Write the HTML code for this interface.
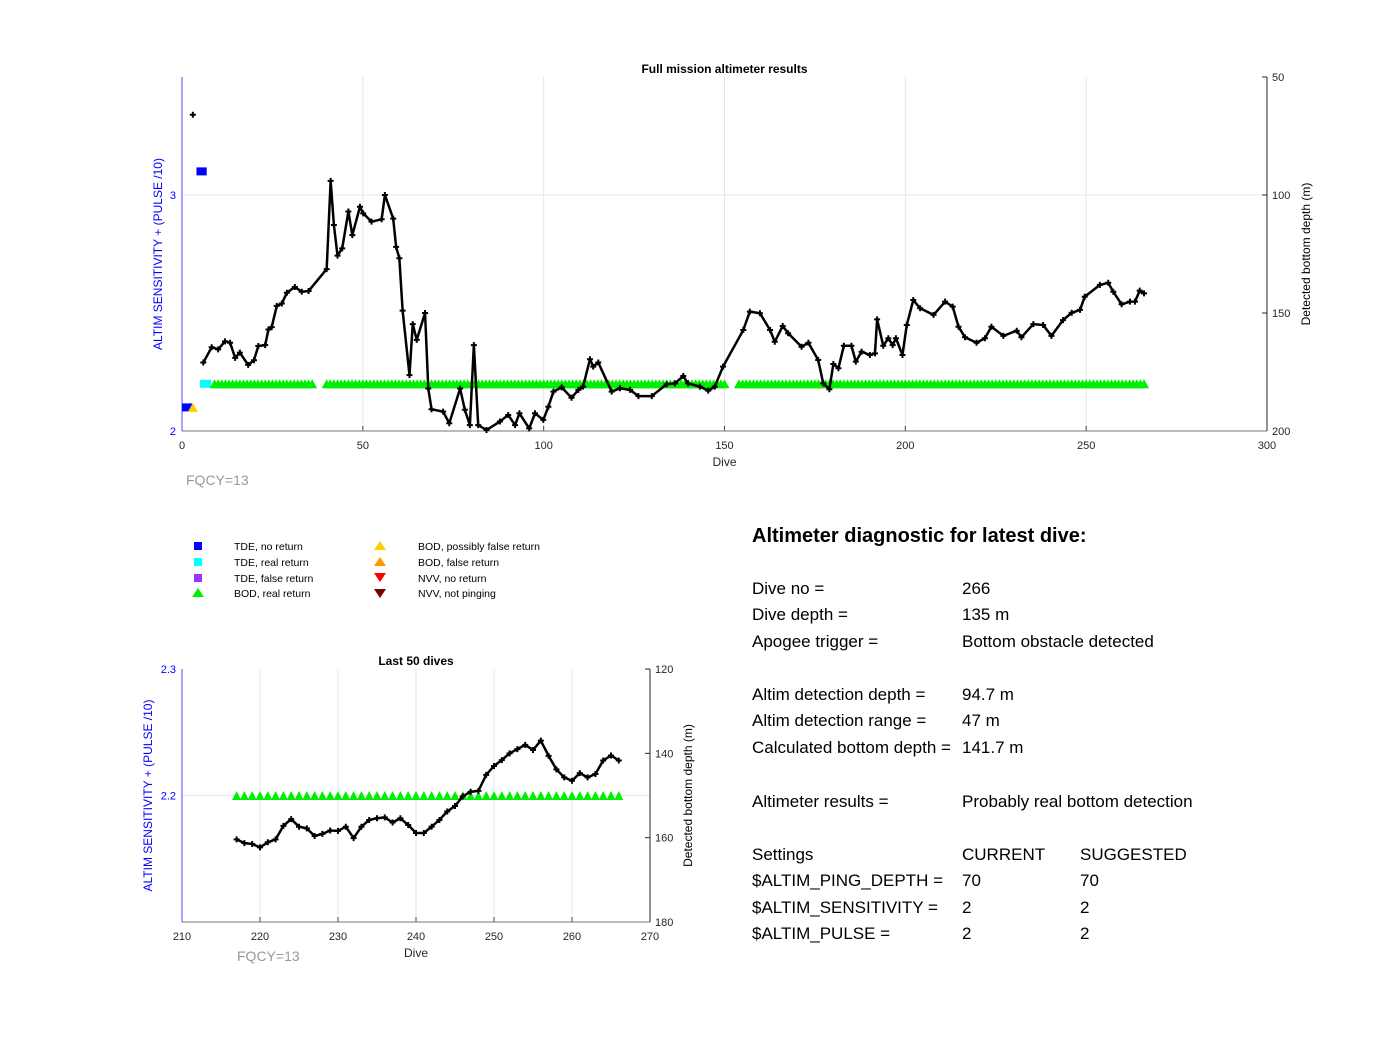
<!DOCTYPE html>
<html><head><meta charset="utf-8"><style>
body{margin:0;background:#fff;font-family:"Liberation Sans",Arial,sans-serif}
svg text{font-family:"Liberation Sans",Arial,sans-serif}
</style></head><body>
<svg id="s" width="1400" height="1038" xmlns="http://www.w3.org/2000/svg">
<rect width="1400" height="1038" fill="#fff"/>
<g id="main"></g>
<g id="small"></g>
<g font-size="10.5" fill="#000">
 <rect x="194" y="542" width="8" height="8" fill="#0000ff"/>
 <text x="234" y="550">TDE, no return</text>
 <rect x="194" y="558" width="8" height="8" fill="#00ffff"/>
 <text x="234" y="566">TDE, real return</text>
 <rect x="194" y="574" width="8" height="8" fill="#9933ff"/>
 <text x="234" y="582">TDE, false return</text>
 <polygon points="192,597 198,588 204,597" fill="#00ee00"/>
 <text x="234" y="597">BOD, real return</text>
 <polygon points="374,550 380,541 386,550" fill="#ffcc00"/>
 <text x="418" y="550">BOD, possibly false return</text>
 <polygon points="374,566 380,557 386,566" fill="#ff9900"/>
 <text x="418" y="566">BOD, false return</text>
 <polygon points="374,573 380,582 386,573" fill="#ff0000"/>
 <text x="418" y="582">NVV, no return</text>
 <polygon points="374,589 380,598 386,589" fill="#800000"/>
 <text x="418" y="597">NVV, not pinging</text>
</g>
<g font-size="17" fill="#000">
 <text x="752" y="542" font-size="20" font-weight="bold">Altimeter diagnostic for latest dive:</text>
 <text x="752" y="594">Dive no =</text><text x="962" y="594">266</text>
 <text x="752" y="620">Dive depth =</text><text x="962" y="620">135 m</text>
 <text x="752" y="647">Apogee trigger =</text><text x="962" y="647">Bottom obstacle detected</text>
 <text x="752" y="700">Altim detection depth =</text><text x="962" y="700">94.7 m</text>
 <text x="752" y="726">Altim detection range =</text><text x="962" y="726">47 m</text>
 <text x="752" y="753">Calculated bottom depth =</text><text x="962" y="753">141.7 m</text>
 <text x="752" y="807">Altimeter results =</text><text x="962" y="807">Probably real bottom detection</text>
 <text x="752" y="860">Settings</text><text x="962" y="860">CURRENT</text><text x="1080" y="860">SUGGESTED</text>
 <text x="752" y="886">$ALTIM_PING_DEPTH =</text><text x="962" y="886">70</text><text x="1080" y="886">70</text>
 <text x="752" y="913">$ALTIM_SENSITIVITY =</text><text x="962" y="913">2</text><text x="1080" y="913">2</text>
 <text x="752" y="939">$ALTIM_PULSE =</text><text x="962" y="939">2</text><text x="1080" y="939">2</text>
</g>
</svg>
<script>
// ---- main chart data ----
const mainDives=[5.9,8.2,10,11.9,13.3,14.7,16,18.3,19.9,21.1,23,23.9,24.8,26.2,27.6,29,31.2,33.1,35,40,41.1,42,43,44.3,46,47.1,49.2,50.1,52.4,55.2,56.1,58.4,59.2,60.1,61,62.9,63.8,64.9,67.2,68.1,69,72.2,73.9,76.9,78.2,79.6,80.7,81.9,84.2,87.9,90.2,92.1,93.3,96,97.6,99.9,101.3,102.7,105,107.7,109.6,110.9,112.8,113.7,115.1,118.8,121.1,123.9,126.2,129.9,134,136.3,138.6,139.9,143.2,145.5,147.3,149.6,155.2,157,159.8,162.6,163.9,166.1,167.6,171.3,173.2,175.9,177.3,179,180.1,181.5,183,185.1,186.3,187.9,190.2,191.6,192.2,193.9,195.3,196.5,197.4,199.2,200.4,202.2,204.1,207.8,211,213.1,214.7,216.5,219.7,222,223.8,227.1,230.8,232.1,235.4,238.1,240.4,243.6,246,248.3,249.6,253.8,256.1,257.5,259.8,262.1,263.5,264.8,266];
const mainDepths=[171,164.5,165.4,162,162.6,169,166.8,172,170,164,163.6,157,156,147,146,141.4,139,141,140.7,131.4,94,112.7,125.7,122.6,107,117,105,107.8,111.3,110.3,100,110,122,126.8,149,176.3,154.7,161.4,150,182,190.8,191.8,196.7,182,191,197.5,163.6,197.5,199.6,196,193.2,197.5,192.5,198.9,192.5,195.3,189.7,183.3,181.5,185.9,182.6,181.2,169.6,172.7,171,183.3,181.9,182.6,185.2,185.2,180.2,179.8,176.7,179.8,181.2,182.9,181.2,172.7,157.2,149.4,150.1,157.2,162.2,155.5,158.6,164.3,162.6,169.9,179.8,182.3,171.6,173.4,163.9,163.9,170.6,166.4,167.8,167.1,152.7,163.9,160.7,163.6,160.7,167.8,155.1,144.5,148,150.8,145.2,147.3,155.8,160.3,162.6,160.7,155.8,159.7,157.5,160.3,154.7,155.1,159.7,153,149.9,148.7,143.1,138.1,137.2,141,146.3,145.2,145.2,140.5,141.7];
const outlierDive=[3], outlierDepth=[66];
const bodRanges=[[9,36],[40,150],[154,266]];
const tdeNoReturn=[[0,2,2.1],[4,6,3.1]];
const tdeReal=[[5,8,2.2]];
const bodPossFalse=[[3,2.1]];
const mainXTicks=[0,50,100,150,200,250,300];
const mainLeftTicks=[2,3];
const mainRightTicks=[50,100,150,200];
// ---- last 50 data ----
const lastDives=[];for(let d=217;d<=266;d++)lastDives.push(d);
const lastDepths=[160.4,161.3,161.5,162.3,161.1,160.4,157.2,155.6,157.4,157.8,159.6,159.1,158.3,158.4,157.4,160.1,157.4,155.8,155.4,155.2,156.4,155.4,157,158.9,158.9,157.4,155.8,153.8,152.5,150.2,149.1,148.9,145.1,143,141.6,140,139,138,139.2,137,140.6,143.8,145.7,146.5,144.7,145.7,144.9,141.7,140.5,141.7];
const smallXTicks=[210,220,230,240,250,260,270];
const smallLeftTicks=[2.2,2.3];
const smallRightTicks=[120,140,160,180];

const NS='http://www.w3.org/2000/svg';
function mk(parent,tag,attrs,txt){const e=document.createElementNS(NS,tag);for(const k in attrs)e.setAttribute(k,attrs[k]);if(txt!==undefined)e.textContent=txt;parent.appendChild(e);return e;}
function plus(g,x,y){mk(g,'path',{d:`M${x-3},${y}H${x+3}M${x},${y-3}V${y+3}`,stroke:'#000','stroke-width':2});}
function tri(g,x,y,w,h,c){const p=mk(g,'polygon',{points:`${x-w/2},${y+h/2} ${x},${y-h/2} ${x+w/2},${y+h/2}`,fill:c});return p;}

function chart(g,o){
  const X=v=>o.x0+(v-o.xmin)/(o.xmax-o.xmin)*(o.x1-o.x0);
  const YL=v=>o.yb+(v-o.lmin)/(o.lmax-o.lmin)*(o.yt-o.yb);
  const YR=v=>o.yt+(v-o.rmin)/(o.rmax-o.rmin)*(o.yb-o.yt);
  o.xt.forEach(t=>{if(t>o.xmin&&t<o.xmax){const l=mk(g,'line',{x1:X(t),x2:X(t),y1:o.yt,y2:o.yb,stroke:'#e6e6e6'});
  
  }
  mk(g,'line',{x1:X(t),x2:X(t),y1:o.yb,y2:o.yb-5,stroke:'#444'});
  const tx=mk(g,'text',{x:X(t),y:o.yb+18,'text-anchor':'middle','font-size':o.fs,fill:'#262626'},String(t));
  
  });
  o.lt.forEach(t=>{if(t>o.lmin&&t<o.lmax)mk(g,'line',{x1:o.x0,x2:o.x1,y1:YL(t),y2:YL(t),stroke:'#e4e4ff'});
  const tx=mk(g,'text',{x:o.x0-6,y:YL(t)+4,'text-anchor':'end','font-size':o.fs,fill:'#0000ff'},String(t));
  
  });
  o.rt.forEach(t=>{mk(g,'line',{x1:o.x1,x2:o.x1-5,y1:YR(t),y2:YR(t),stroke:'#262626'});
  const tx=mk(g,'text',{x:o.x1+5,y:YR(t)+4,'font-size':o.fs,fill:'#262626'},String(t));
  
  });
  mk(g,'line',{x1:o.x0,x2:o.x1,y1:o.yb,y2:o.yb,stroke:'#777'});
  mk(g,'line',{x1:o.x0,x2:o.x0,y1:o.yt,y2:o.yb,stroke:'#4d4dff'});
  mk(g,'line',{x1:o.x1,x2:o.x1,y1:o.yt,y2:o.yb,stroke:'#262626'});
  const t=mk(g,'text',{x:(o.x0+o.x1)/2,y:o.yt-4,'text-anchor':'middle','font-size':12,'font-weight':'bold'},o.title);
  
  
  const xl=mk(g,'text',{x:(o.x0+o.x1)/2,y:o.yb+35,'text-anchor':'middle','font-size':12,fill:'#262626'},'Dive');
  
  
  const cy=(o.yt+o.yb)/2;
  const ll=mk(g,'text',{x:o.llx,y:cy,'text-anchor':'middle','font-size':12,fill:'#0000ff',transform:`rotate(-90 ${o.llx} ${cy})`},'ALTIM SENSITIVITY + (PULSE /10)');
  
  
  const rl=mk(g,'text',{x:o.rlx,y:cy,'text-anchor':'middle','font-size':12,fill:'#000',transform:`rotate(-90 ${o.rlx} ${cy})`},'Detected bottom depth (m)');
  
  
  const fq=mk(g,'text',{x:o.fqx,y:o.yb+o.fqdy,'font-size':14,fill:'#999'},'FQCY=13');
  
  
  return {X,YL,YR};
}

// main
const gm=document.getElementById('main');
const A=chart(gm,{x0:182,x1:1267,yt:77,yb:431,xmin:0,xmax:300,lmin:2,lmax:3.5,rmin:50,rmax:200,xt:mainXTicks,lt:mainLeftTicks,rt:mainRightTicks,fs:11,title:'Full mission altimeter results',llx:162,rlx:1310,fqx:186,fqdy:54});
// fix left scale: 3 at y=195
const YLm=v=>431-(v-2)*236;
tdeNoReturn.forEach(r=>{const e=mk(gm,'rect',{x:A.X(r[0]),y:YLm(r[2])-4,width:A.X(r[1])-A.X(r[0])+3,height:8,fill:'#0000ff'});

});
tdeReal.forEach(r=>{const e=mk(gm,'rect',{x:A.X(r[0]),y:YLm(r[2])-4,width:A.X(r[1])-A.X(r[0]),height:8,fill:'#00ffff'});

});
bodPossFalse.forEach(p=>{const e=tri(gm,A.X(p[0]),YLm(p[1]),10,9,'#ffcc00');

});
bodRanges.forEach(r=>{for(let d=r[0];d<=r[1];d++){const e=tri(gm,A.X(d),YLm(2.2),10,9,'#00ee00');

}});
const pts=mainDives.map((d,i)=>A.X(d)+','+A.YR(mainDepths[i])).join(' ');
const pl=mk(gm,'polyline',{points:pts,fill:'none',stroke:'#000','stroke-width':2.5,'stroke-linejoin':'round'});


mainDives.forEach((d,i)=>plus(gm,A.X(d),A.YR(mainDepths[i])));
outlierDive.forEach((d,i)=>plus(gm,A.X(d),A.YR(outlierDepth[i])));

// small
const gs=document.getElementById('small');
const B=chart(gs,{x0:182,x1:650,yt:669,yb:922,xmin:210,xmax:270,lmin:2.1,lmax:2.3,rmin:120,rmax:180,xt:smallXTicks,lt:smallLeftTicks,rt:smallRightTicks,fs:11,title:'Last 50 dives',llx:152,rlx:692,fqx:237,fqdy:39});
lastDives.forEach(d=>{const e=tri(gs,B.X(d),B.YL(2.2),9,9,'#00ee00');

});
const pts2=lastDives.map((d,i)=>B.X(d)+','+B.YR(lastDepths[i])).join(' ');
const pl2=mk(gs,'polyline',{points:pts2,fill:'none',stroke:'#000','stroke-width':2.5,'stroke-linejoin':'round'});


lastDives.forEach((d,i)=>plus(gs,B.X(d),B.YR(lastDepths[i])));
</script>
</body></html>
